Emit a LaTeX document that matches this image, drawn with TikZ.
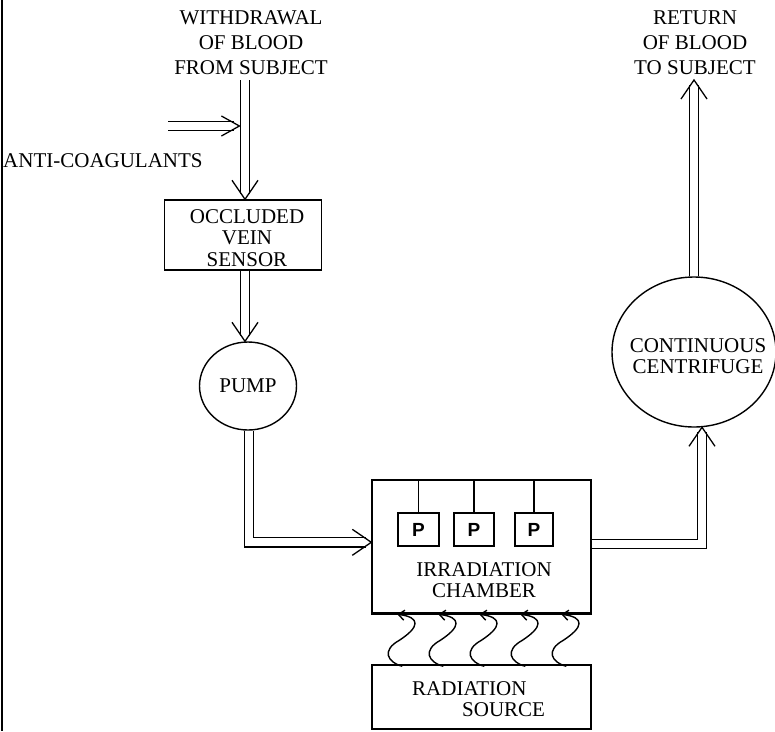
\documentclass[tikz,border=0pt]{standalone}
\usepackage{fontspec}
\setmainfont{Liberation Serif}
\newfontfamily\psans{Liberation Sans}
\usetikzlibrary{arrows.meta,calc,shapes.geometric}
\begin{document}
\begin{tikzpicture}[x=1pt,y=-1pt,
  ln/.style={line width=1.3pt},
  dbl/.style={line width=1.3pt, double=white, double distance=8pt, line join=miter, shorten >=5pt},
  lab/.style={font=\fontsize{21}{25}\selectfont, align=center, inner sep=0pt},
  boxlab/.style={font=\fontsize{21}{21.5}\selectfont, align=center, inner sep=0pt},
  box/.style={draw, line width=1.4pt, inner sep=0pt},
  rnd/.style={draw, ellipse, line width=1.4pt, inner sep=0pt},
  pbox/.style={draw, line width=1.3pt, minimum height=33pt, inner sep=0pt, font=\psans\bfseries\fontsize{19}{19}\selectfont},
  wave/.style={line width=1.4pt, -{Straight Barb[length=6pt,width=10pt]}},
  vtip/.pic={\draw[line width=1.3pt] (-19,-13) -- (0,0) -- (-19,13);},
  vtips/.pic={\draw[line width=1.3pt] (-18,-10) -- (0,0) -- (-18,10);}
]
\useasboundingbox (0,0) rectangle (775,731);
% left border
\draw[line width=2.6pt] (2,0) -- (2,731);

% labels
\node[lab] (wd) at (251,43) {WITHDRAWAL\\OF BLOOD\\FROM SUBJECT};
\node[lab] (rt) at (695,43) {RETURN\\OF BLOOD\\TO SUBJECT};
\node[lab, anchor=west] (ac) at (3,161) {ANTI-COAGULANTS};

% blocks
\node[box, minimum width=157pt, minimum height=70pt,
      label={[boxlab, xshift=4pt, yshift=-3pt]center:OCCLUDED\\VEIN\\SENSOR}] (occ) at (243,235) {};
\node[rnd, boxlab, minimum width=97pt, minimum height=88pt] (pump) at (248,386) {PUMP};
\node[box, minimum width=219pt, minimum height=133pt] (ch) at (481.5,546.5) {};
\draw[line width=2.8pt] (ch.south west) -- (ch.south east);
\node[boxlab] (chl) at (484,580) {IRRADIATION\\CHAMBER};
\node[pbox, minimum width=41pt] (p1) at (418.5,529.5) {P};
\node[pbox, minimum width=40pt] (p2) at (474,529.5) {P};
\node[pbox, minimum width=38pt] (p3) at (534,529.5) {P};
\foreach \p in {p1,p2,p3} \draw[ln] (\p.north) -- (\p.north |- ch.north);
\node[box, minimum width=219pt, minimum height=64pt] (src) at (481.5,697) {};
\node[boxlab, align=left, anchor=west] (srcl) at (412,699) {RADIATION\\\hspace*{50pt}SOURCE};
\node[rnd, minimum width=164pt, minimum height=150pt,
      label={[boxlab, xshift=4pt, yshift=-4pt]center:CONTINUOUS\\CENTRIFUGE}] (cf) at (694,352) {};

% connectors
\coordinate (top1) at (245,80);
\coordinate (acs) at (168,126);
\coordinate (acend) at ($(acs -| top1)+(-5.6,0)$);
\draw[dbl] (acs) -- (acend);
\pic at (acend) {vtips};

\draw[dbl] (top1) -- (top1 |- occ.north);
\pic[rotate=-90] at (top1 |- occ.north) {vtip};
\draw[dbl] (top1 |- occ.south) -- (top1 |- pump.north);
\pic[rotate=-90] at (top1 |- pump.north) {vtip};

\coordinate (cin) at ($(ch.north west)+(0,63)$);
\draw[dbl] ($(pump.south)+(1,0)$) |- (cin);
\pic at (cin) {vtip};

\coordinate (cout) at ($(ch.north east)+(0,64.5)$);
\coordinate (cft) at ($(cf.south)+(8,-0.4)$);
\draw[dbl] (cout) -| (cft);
\pic[rotate=90] at (cft) {vtip};

\coordinate (rtop) at (cf.north |- 0,80);
\draw[dbl] (cf.north) -- (rtop);
\pic[rotate=90] at (rtop) {vtip};

% radiation waves
\foreach \i in {0,...,4} {
  \path (src.north west) ++(26+41*\i,2) coordinate (w\i);
  \draw[wave] ($(w\i)+(5,0)$) .. controls ($(w\i)+(-10,-4)$) and ($(w\i)+(-16,-16)$) .. ($(w\i)+(2,-26)$)
     .. controls ($(w\i)+(22,-39)$) and ($(w\i)+(24,-49)$) .. ($(w\i)+(0,-52)$);
}
\end{tikzpicture}
\end{document}
